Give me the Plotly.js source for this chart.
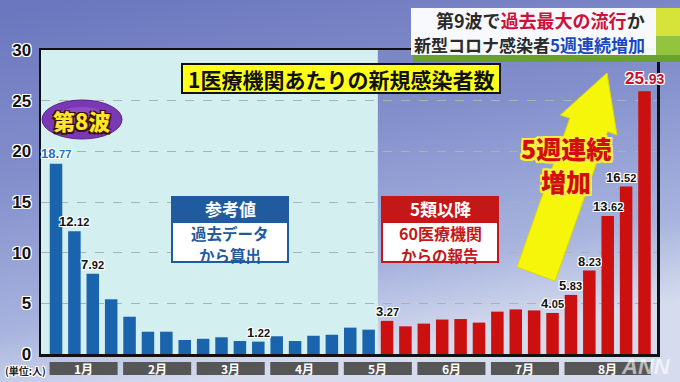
<!DOCTYPE html>
<html>
<head>
<meta charset="utf-8">
<script src="https://cdn.plot.ly/plotly-3.0.1.min.js"></script>
<style>html,body{margin:0;padding:0;background:#8590cc;}#chart{width:680px;height:382px;}</style>
</head>
<body>
<div id="chart"></div>
<script>
// ---- data ----
const months = ['1月','2月','3月','4月','5月','6月','7月','8月'];
const monthWeeks = [4,4,4,4,4,4,4,5];
const beforeValues = [18.77,12.12,7.92,5.4,3.68,2.2,2.2,1.38,1.5,1.65,1.28,1.22,1.75,1.28,1.8,1.9,2.6,2.4];
const afterValues = [3.27,2.73,3.0,3.4,3.45,3.1,4.18,4.4,4.3,4.05,5.83,8.23,13.62,16.52,25.93];
const labeledBefore = [0,1,2,11];
const labeledAfter = [0,9,10,11,12,13,14];
const yTicks = [0,5,10,15,20,25,30];

// ---- layout helpers (pixel -> paper) ----
const L=41, R=657, T=50, B=354;
const px = x => (x-L)/(R-L);
const py = y => (B-y)/(B-T);
const FONT = '"Noto Sans CJK JP", "Noto Sans", sans-serif';
const NUMFONT = '"Liberation Sans", Arial, sans-serif';
const white = '-1px -1px 0 #fff, 1px -1px 0 #fff, -1px 1px 0 #fff, 1px 1px 0 #fff, 0 1px 0 #fff, 0 -1px 0 #fff, 1px 0 0 #fff, -1px 0 0 #fff';
const yellowOutline = '-2px -2px 0 #ffef3a, 2px -2px 0 #ffef3a, -2px 2px 0 #ffef3a, 2px 2px 0 #ffef3a, 0 2px 0 #ffef3a, 0 -2px 0 #ffef3a, 2px 0 0 #ffef3a, -2px 0 0 #ffef3a';
const darkOutline = '-1.5px -1.5px 0 #3a1400, 1.5px -1.5px 0 #3a1400, -1.5px 1.5px 0 #3a1400, 1.5px 1.5px 0 #3a1400';

const nB = beforeValues.length;
const xBefore = beforeValues.map((_,i)=>i);
const xAfter = afterValues.map((_,i)=>i+nB);
const nAll = nB + afterValues.length;

function fmt(v, big){
  const s = v.toFixed(2).split('.');
  const small = big ? 14 : 11;
  return s[0] + '.<span style="font-size:'+small+'px">' + s[1] + '</span>';
}

const traces = [
  {type:'bar', x:xBefore, y:beforeValues, width:0.68, marker:{color:'#1a63ad'}, hoverinfo:'skip'},
  {type:'bar', x:xAfter, y:afterValues, width:0.68, marker:{color:'#cc0f0f'}, hoverinfo:'skip'}
];

const shapes = [];
const annotations = [];
function note(o){ annotations.push(Object.assign({showarrow:false, xanchor:'center', yanchor:'middle', borderpad:0}, o)); }
function pnote(x, y, text, font, extra){ note(Object.assign({xref:'paper', yref:'paper', x:px(x), y:py(y), text:text, font:font}, extra||{})); }
function prect(x0, x1, y0, y1, fill, line, extra){
  shapes.push(Object.assign({type:'rect', xref:'paper', yref:'paper', x0:px(x0), x1:px(x1), y0:py(y1), y1:py(y0), fillcolor:fill, line:line||{width:0}}, extra||{}));
}

// background split
shapes.push({type:'rect', xref:'x', yref:'paper', x0:-0.816, x1:nB-0.5, y0:0, y1:1, fillcolor:'#d4eff0', line:{width:0}, layer:'below'});

// month boxes
let start = 0;
months.forEach((m,i)=>{
  const x0 = start-0.35, x1 = start + monthWeeks[i] - 1 + 0.35;
  shapes.push({type:'rect', xref:'x', yref:'paper', x0:x0, x1:x1, y0:py(375), y1:py(362), fillcolor:'#565656', line:{width:0}});
  note({xref:'x', yref:'paper', x:(x0+x1)/2, y:py(368.5), text:m, font:{family:FONT, size:12, color:'#fff', weight:700}});
  start += monthWeeks[i];
});

// value labels
labeledBefore.forEach(i=>{
  note({x:xBefore[i], y:beforeValues[i], text:fmt(beforeValues[i]), yanchor:'bottom', yshift: i===0?2:1,
    font:{family:NUMFONT, size:13, weight:700, color: i===0?'#2a6fb5':'#111', shadow:white}});
});
labeledAfter.forEach(i=>{
  const last = i===afterValues.length-1;
  note({x:xAfter[i], y:afterValues[i], text:fmt(afterValues[i], last), yanchor:'bottom', yshift: last?2:1,
    xshift: i===13?-5:0,
    font:{family:NUMFONT, size: last?17:13, weight:700, color: last?'#c4102a':'#111', shadow:white}});
});

// headline box (top right)
prect(413, 680, 54, 62, '#6aa030');
prect(655, 680, 8, 36, '#d6e43a');
prect(655, 680, 36, 55, '#92c440');
prect(411, 656, 8, 55, 'rgba(255,255,255,0.95)');
pnote(646, 20, '第9波で<span style="color:#d0103a">過去最大の流行</span>か', {family:FONT, size:18, color:'#2a2a2a', weight:700}, {xanchor:'right'});
pnote(646, 44, '新型コロナ感染者<span style="color:#1848c0">5週連続増加</span>', {family:FONT, size:17, color:'#2a2a2a', weight:700}, {xanchor:'right'});

// chart title box
prect(182, 500, 64, 93, '#ffff1a', {color:'#111', width:2});
pnote(341, 78.5, '1医療機関あたりの新規感染者数', {family:FONT, size:21, color:'#111', weight:700});

// legend-like boxes
prect(172, 288, 221, 262, '#ffffff', {color:'#1f5b9e', width:2});
prect(172, 288, 197, 222, '#1f5b9e', {color:'#1f5b9e', width:2});
pnote(230, 208.5, '参考値', {family:FONT, size:17, color:'#fff', weight:700});
pnote(230, 232.5, '過去データ', {family:FONT, size:15.5, color:'#1f5b9e', weight:700});
pnote(230, 254.5, 'から算出', {family:FONT, size:15.5, color:'#1f5b9e', weight:700});

prect(382, 498, 221, 262, '#ffffff', {color:'#c41818', width:2});
prect(382, 498, 197, 222, '#c41818', {color:'#c41818', width:2});
pnote(440, 208.5, '5類以降', {family:FONT, size:17, color:'#fff', weight:700});
pnote(440, 232.5, '60医療機関', {family:FONT, size:16, color:'#c41818', weight:700});
pnote(440, 254.5, 'からの報告', {family:FONT, size:15.5, color:'#c41818', weight:700});

// big yellow arrow
const arrowPts = [[607,73],[617,135],[607.6,131.6],[555,281],[517,267],[569.8,118.2],[560.4,115]];
shapes.push({type:'path', xref:'paper', yref:'paper', layer:'above',
  path: 'M ' + arrowPts.map(p=>px(p[0]).toFixed(5)+','+py(p[1]).toFixed(5)).join(' L ') + ' Z',
  fillcolor:'#f6f60a', line:{color:'#e0d800', width:1}});
pnote(566, 164, '5週連続<br>増加', {family:FONT, size:25, color:'#d01010', weight:900, shadow:yellowOutline});

// 第8波 badge
shapes.push({type:'circle', xref:'paper', yref:'paper', x0:px(42), x1:px(122), y0:py(139), y1:py(100), fillcolor:'#7a38b4', line:{color:'#5a2090', width:1}});
shapes.push({type:'circle', xref:'paper', yref:'paper', x0:px(54), x1:px(110), y0:py(132), y1:py(107), fillcolor:'#9a5ad0', line:{width:0}, opacity:0.6});
pnote(81, 120, '第8波', {family:FONT, size:22, color:'#ffe62a', weight:900, shadow:darkOutline});

// unit label
pnote(25, 370, '(単位:人)', {family:FONT, size:10, color:'#222', weight:700, shadow:white});

// watermark
pnote(646, 366, '<i>ANN</i>', {family:NUMFONT, size:22, color:'#ffffff', weight:900}, {opacity:0.6});

const bgSvg = '<svg xmlns="http://www.w3.org/2000/svg" width="680" height="382"><defs><linearGradient id="g" x1="0" y1="0" x2="0.3" y2="1"><stop offset="0" stop-color="#6a76bd"/><stop offset="0.45" stop-color="#8490cc"/><stop offset="0.8" stop-color="#a8b4de"/><stop offset="1" stop-color="#d6dcee"/></linearGradient></defs><rect width="680" height="382" fill="url(#g)"/></svg>';

const layout = {
  width:680, height:382,
  margin:{l:L, r:680-R, t:T, b:382-B, pad:0},
  paper_bgcolor:'#8590cc',
  plot_bgcolor:'#f2d7db',
  showlegend:false,
  barmode:'overlay',
  font:{family:FONT},
  xaxis:{range:[-0.816, nAll-1+0.68], showticklabels:false, showgrid:false, zeroline:false, ticks:'',
    showline:true, mirror:true, linecolor:'#111', linewidth:2.5, fixedrange:true},
  yaxis:{range:[0,30], tickvals:yTicks, ticktext:yTicks.map(String), showgrid:true, gridcolor:'#b0b0b0', griddash:'dash', gridwidth:1,
    zeroline:false, showline:true, mirror:true, linecolor:'#111', linewidth:2.5, ticks:'', ticklabelstandoff:4,
    tickfont:{family:NUMFONT, size:17, color:'#111', weight:700, shadow:white}, fixedrange:true},
  images:[{source:'data:image/svg+xml;charset=utf-8,'+encodeURIComponent(bgSvg), xref:'paper', yref:'paper',
    x:px(0), y:py(0), sizex:px(680)-px(0), sizey:py(0)-py(382), xanchor:'left', yanchor:'top', sizing:'stretch', layer:'below'}],
  shapes:shapes,
  annotations:annotations
};

Plotly.newPlot('chart', traces, layout, {displayModeBar:false, staticPlot:true});
</script>
</body>
</html>
